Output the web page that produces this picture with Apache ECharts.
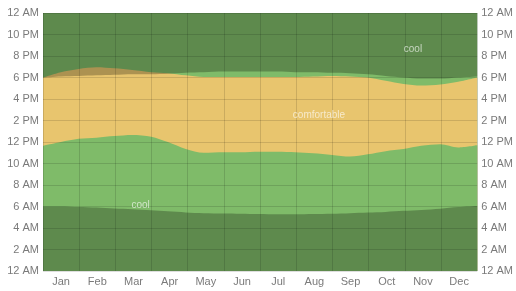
<!DOCTYPE html>
<html>
<head>
<meta charset="utf-8">
<script src="https://cdn.jsdelivr.net/npm/echarts@6/dist/echarts.min.js"></script>
<style>
html,body{margin:0;padding:0;background:#fff;}
#c{width:516px;height:291px;}
</style>
</head>
<body>
<div id="c"></div>
<script>
// Month category labels
var months = ['Jan','Feb','Mar','Apr','May','Jun','Jul','Aug','Sep','Oct','Nov','Dec'];
// Day-of-year sample positions
var days = [0,15,30,45,60,75,91,105,120,135,152,166,182,197,212,227,243,258,273,288,303,318,334,349,365];
// Hour at which the comfortable band begins (top of morning "cool")
var comfortStart = [11.65,12.0,12.3,12.4,12.55,12.65,12.5,12.0,11.35,11.0,11.05,11.05,11.1,11.1,11.05,10.95,10.8,10.65,10.85,11.15,11.35,11.65,11.8,11.5,11.7];
// Hour at which the comfortable band ends (evening)
var comfortEnd = [18.0,18.5,18.8,18.95,18.85,18.7,18.5,18.4,18.2,18.05,18.05,18.05,18.05,18.05,18.05,18.1,18.15,18.1,18.0,17.7,17.4,17.25,17.35,17.6,18.0];
// Sunrise hour
var sunrise = [6.0,6.0,5.95,5.9,5.82,5.75,5.65,5.55,5.45,5.38,5.35,5.33,5.3,5.28,5.28,5.3,5.32,5.38,5.45,5.5,5.6,5.68,5.8,5.95,6.05];
// Sunset hour
var sunset = [18.0,18.1,18.15,18.2,18.25,18.3,18.3,18.35,18.45,18.5,18.55,18.55,18.55,18.55,18.5,18.5,18.45,18.4,18.3,18.15,18.0,17.9,17.9,18.0,18.1];
// Hour tick labels (every 2 hours, from midnight)
var hourLabels = ['12 AM','2 AM','4 AM','6 AM','8 AM','10 AM','12 PM','2 PM','4 PM','6 PM','8 PM','10 PM','12 AM'];
// Band text labels: [day, hour, text]
var bandLabels = [[311,20.6,'cool'],[232,14.5,'comfortable'],[82,6.15,'cool']];

function pairs(ys){ return days.map(function(d,i){ return [d, ys[i]]; }); }

var chart = echarts.init(document.getElementById('c'), null, {renderer:'canvas'});
var night = 'rgba(0,0,0,0.26)';
var labelStyle = {color:'#7a7a7a', fontSize:11, fontFamily:'Liberation Sans, Arial, sans-serif'};

function band(data, color, origin){
  return {type:'line', xAxisIndex:1, yAxisIndex:0, data:data, showSymbol:false, symbol:'none',
    smooth:0.3, lineStyle:{width:0}, areaStyle:{color:color, origin:origin, opacity:1}, silent:true, z:2};
}

chart.setOption({
  animation:false,
  grid:{left:43, right:36, top:13, bottom:20, show:true, backgroundColor:'#7fbb69', borderWidth:0},
  xAxis:[
    {type:'category', data:months, boundaryGap:true, position:'bottom', z:5,
     axisLine:{show:false}, axisTick:{show:false},
     axisLabel:Object.assign({margin:5}, labelStyle),
     splitLine:{show:true, lineStyle:{color:'rgba(0,0,0,0.13)', width:1}}},
    {type:'value', min:0, max:365, show:false}
  ],
  yAxis:[
    {type:'value', min:0, max:24, interval:2, position:'left', z:5,
     axisLine:{show:false}, axisTick:{show:false},
     axisLabel:Object.assign({margin:4, formatter:function(v){return hourLabels[Math.round(v/2)];}}, labelStyle),
     splitLine:{show:true, lineStyle:{color:'rgba(0,0,0,0.13)', width:1}}},
    {type:'value', min:0, max:24, interval:2, position:'right',
     axisLine:{show:false}, axisTick:{show:false},
     axisLabel:Object.assign({margin:4, formatter:function(v){return hourLabels[Math.round(v/2)];}}, labelStyle),
     splitLine:{show:false}}
  ],
  series:[
    band(pairs(comfortEnd), '#e8c56e', 'start'),
    band(pairs(comfortStart), '#7fbb69', 'start'),
    band(pairs(sunrise), night, 'start'),
    band(pairs(sunset), night, 'end'),
    {type:'scatter', xAxisIndex:1, yAxisIndex:0, symbolSize:0, silent:true, z:6,
     data:bandLabels.map(function(b){return {value:[b[0],b[1]], name:b[2]};}),
     label:{show:true, position:'inside', formatter:'{b}', fontSize:10,
       fontFamily:'Liberation Sans, Arial, sans-serif',
       color:'rgba(255,255,255,0.8)'}}
  ]
});
</script>
</body>
</html>
